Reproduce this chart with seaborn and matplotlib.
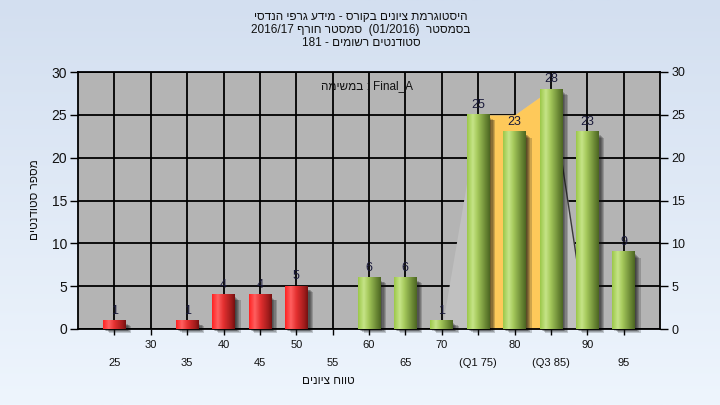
import re
import numpy as np
import pandas as pd
import seaborn as sns
import matplotlib.pyplot as plt
from matplotlib.colors import LinearSegmentedColormap
from matplotlib.patches import Rectangle

# data
grades = [25, 30, 35, 40, 45, 50, 55, 60, 65, 70, 75, 80, 85, 90, 95]
counts = [1, 0, 1, 4, 4, 5, 0, 6, 6, 1, 25, 23, 28, 23, 9]
tick_labels = ["25", "30", "35", "40", "45", "50", "55", "60", "65", "70",
               "(Q1 75)", "80", "(Q3 85)", "90", "95"]
pass_mark = 55

# distribution shape drawn behind the bars (quartile band in orange)
curve_grades = [70, 75, 80, 85, 90]
curve_counts = [0, 25, 25, 28, 0]
q1, q3 = 75, 85

title_lines = ["היסטוגרמת ציונים בקורס - מידע גרפי הנדסי",
               "בסמסטר  (01/2016)  סמסטר חורף 2016/17",
               "סטודנטים רשומים - 181"]
task_text = "Final_A : במשימה"
x_title = "טווח ציונים"
y_title = "מספר סטודנטים"


def visual(s):
    # crude bidi: matplotlib draws left to right, so flip hebrew runs
    r = s[::-1]
    r = re.sub(r'[0-9A-Za-z_/.]+', lambda m: m.group(0)[::-1], r)
    return r.translate(str.maketrans('()', ')('))


def pos(g):
    return (g - grades[0]) / 5


sns.set_theme(style="white")
plt.rcParams['font.family'] = ['Liberation Sans', 'DejaVu Sans']

fig = plt.figure(figsize=(7.2, 4.05), dpi=100)

# light blue backdrop
bg = fig.add_axes([0, 0, 1, 1], zorder=-10)
bg_cmap = LinearSegmentedColormap.from_list("bg", ["#d3dff0", "#eef5fd"])
bg.imshow(np.linspace(0, 1, 256).reshape(-1, 1), aspect='auto', cmap=bg_cmap,
          extent=(0, 1, 0, 1))
bg.axis('off')

ax = fig.add_axes([78 / 720, 1 - 329 / 405, 582 / 720, 257 / 405])
ax.set_facecolor('#b4b4b4')

df = pd.DataFrame({
    'grade': [str(g) for g in grades],
    'count': counts,
    'status': ['fail' if g < pass_mark else 'pass' for g in grades],
})
sns.barplot(data=df, x='grade', y='count', hue='status',
            order=[str(g) for g in grades],
            palette={'fail': '#e02828', 'pass': '#9cc450'},
            dodge=False, width=0.62, saturation=1, legend=False,
            edgecolor='none', linewidth=0, ax=ax, zorder=3)

# background shape
cx = [pos(g) for g in curve_grades]
ax.fill_between(cx, 0, curve_counts, color='#c0c0c0', lw=0, zorder=1)
band = [i for i, g in enumerate(curve_grades) if q1 <= g <= q3]
ax.fill_between([cx[i] for i in band], 0, [curve_counts[i] for i in band],
                color='#fec95a', lw=0, zorder=1.2)
ax.plot(cx[-2:], curve_counts[-2:], color='#3a3a3a', lw=1, zorder=1.3)

green = LinearSegmentedColormap.from_list(
    "g", [(0, '#9cc84a'), (0.25, '#c6e488'), (0.45, '#a6ca5c'),
          (0.8, '#6c8a36'), (1, '#4c6622')])
red = LinearSegmentedColormap.from_list(
    "r", [(0, '#ff2222'), (0.25, '#ff6060'), (0.5, '#e43030'),
          (0.85, '#a01c1c'), (1, '#761010')])
grad = np.linspace(0, 1, 64).reshape(1, -1)

for p in list(ax.patches):
    h = p.get_height()
    if h <= 0:
        continue
    x0, w = p.get_x(), p.get_width()
    is_red = p.get_facecolor()[1] < 0.5
    # soft drop shadow to the lower right
    for k in range(5):
        ax.add_patch(Rectangle((x0 + 0.02 + 0.035 * k, -0.1 - 0.09 * k),
                               w, h - 0.2, color='#101010', alpha=0.2, lw=0,
                               zorder=2.5, clip_on=False))
    ax.imshow(grad, extent=(x0, x0 + w, 0, h), aspect='auto',
              cmap=red if is_red else green, zorder=4)

for g, c in zip(grades, counts):
    if c > 0:
        ax.text(pos(g), c + 0.45, str(c), ha='center', va='bottom',
                fontsize=9, color='#1a1a3a', zorder=6)

ax.set_xlim(-1, 15)
ax.set_ylim(0, 30)
ax.set_xlabel('')
ax.set_ylabel('')

idx = list(range(len(grades)))
ax.set_xticks(idx[1::2], tick_labels[1::2])
ax.set_xticks(idx[0::2], tick_labels[0::2], minor=True)
ax.tick_params(axis='x', which='both', bottom=True, direction='out', length=4,
               width=1, color='black', labelsize=8, labelcolor='#111111')
ax.tick_params(axis='x', which='major', pad=4)
ax.tick_params(axis='x', which='minor', pad=17)

ax.set_yticks(range(0, 31, 5))
ax.tick_params(axis='y', which='major', left=True, right=True, labelleft=True,
               labelright=True, direction='out', length=6, width=1,
               color='black', pad=2, labelsize=10, labelcolor='#111111')
for t in ax.yaxis.get_major_ticks():
    t.label2.set_fontsize(9)

ax.grid(True, which='both', axis='x', color='black', lw=1.3, zorder=0.5)
ax.grid(True, which='major', axis='y', color='black', lw=1.3, zorder=0.5)
ax.set_axisbelow(True)
for s in ax.spines.values():
    s.set_visible(True)
    s.set_color('black')
    s.set_linewidth(1.3)

for line, y in zip(title_lines, [17, 30, 43]):
    fig.text(361 / 720, 1 - y / 405, visual(line), ha='center', va='center',
             fontsize=8.5, color='#111111')
fig.text(367 / 720, 1 - 86 / 405, visual(task_text), ha='center', va='center',
         fontsize=8.5, color='#111111')
fig.text(328 / 720, 1 - 381 / 405, visual(x_title), ha='center', va='center',
         fontsize=8.5, color='#111111')
fig.text(35 / 720, 1 - 200 / 405, visual(y_title), ha='center', va='center',
         rotation=90, fontsize=8.5, color='#111111')

fig.savefig('out.png', dpi=100)
